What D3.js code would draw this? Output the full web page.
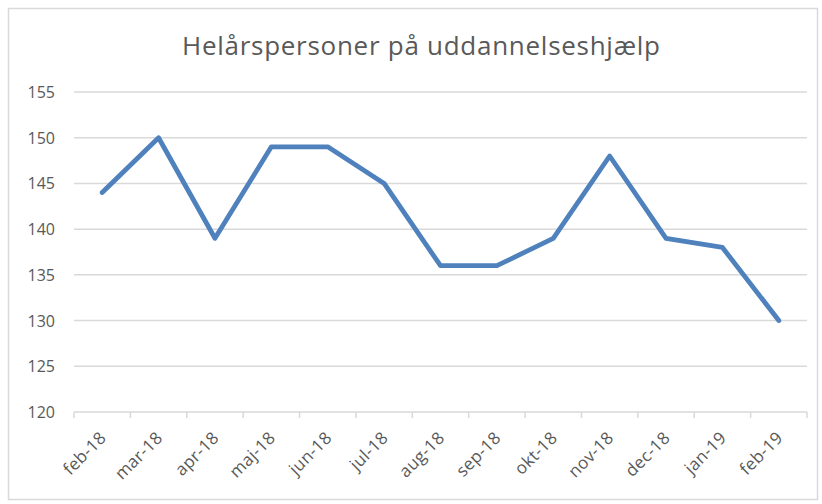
<meta charset="utf-8">
<title>Helårspersoner på uddannelseshjælp</title>
<style>
  body { margin: 0; background: #fff; }
  text { font-family: "Open Sans", "Noto Sans", sans-serif; fill: #595959; }
</style>
<body>
<script src="https://d3js.org/d3.v7.min.js"></script>
<script>
// data
var months = ['feb-18','mar-18','apr-18','maj-18','jun-18','jul-18','aug-18',
              'sep-18','okt-18','nov-18','dec-18','jan-19','feb-19'];
var persons = [144, 150, 139, 149, 149, 145, 136, 136, 139, 148, 139, 138, 130];
var yTicks = [120, 125, 130, 135, 140, 145, 150, 155];

var width = 822,
    height = 504;

var svg = d3.select('body').append('svg')
    .attr('width', width)
    .attr('height', height);

// chart frame
svg.append('rect')
    .attr('x', 8.5).attr('y', 8.5)
    .attr('width', 809).attr('height', 491)
    .style('fill', 'white')
    .style('stroke', '#d9d9d9')
    .style('stroke-width', 1.5);

var x = d3.scaleBand()
    .domain(months)
    .range([74, 807]);

var y = d3.scaleLinear()
    .domain([120, 155])
    .range([412, 92]);

// gridlines
svg.selectAll('.grid')
    .data(yTicks.slice(1))
    .enter().append('line')
    .attr('x1', 74).attr('x2', 807)
    .attr('y1', function(d) { return y(d); })
    .attr('y2', function(d) { return y(d); })
    .style('stroke', '#d9d9d9')
    .style('stroke-width', 1.5);

// x axis line + ticks
svg.append('line')
    .attr('x1', 74).attr('x2', 807)
    .attr('y1', y(120)).attr('y2', y(120))
    .style('stroke', '#d9d9d9')
    .style('stroke-width', 1.5);

var tickPos = months.map(function(m) { return x(m); }).concat([807]);
svg.selectAll('.xtick')
    .data(tickPos)
    .enter().append('line')
    .attr('x1', function(d) { return d; })
    .attr('x2', function(d) { return d; })
    .attr('y1', y(120)).attr('y2', y(120) + 6)
    .style('stroke', '#d9d9d9')
    .style('stroke-width', 1.5);

// y labels
svg.selectAll('.ylab')
    .data(yTicks)
    .enter().append('text')
    .attr('x', 55)
    .attr('y', function(d) { return y(d) + 6; })
    .attr('text-anchor', 'end')
    .style('font-size', '16px')
    .text(function(d) { return d; });

// x labels, rotated
svg.selectAll('.xlab')
    .data(months)
    .enter().append('text')
    .attr('text-anchor', 'end')
    .attr('transform', function(d) {
        return 'translate(' + (x(d) + x.bandwidth() / 2 + 5) + ',' + (y(120) + 27) + ') rotate(-45)';
    })
    .style('font-size', '17px')
    .style('letter-spacing', '0.3px')
    .text(function(d) { return d; });

// line
var line = d3.line()
    .x(function(d, i) { return x(months[i]) + x.bandwidth() / 2; })
    .y(function(d) { return y(d); });

svg.append('path')
    .datum(persons)
    .attr('d', line)
    .style('fill', 'none')
    .style('stroke', '#4f81bd')
    .style('stroke-width', 4.8)
    .style('stroke-linejoin', 'round')
    .style('stroke-linecap', 'round');

// title
svg.append('text')
    .attr('x', 421)
    .attr('y', 55)
    .attr('text-anchor', 'middle')
    .attr('textLength', 478)
    .attr('lengthAdjust', 'spacing')
    .style('font-size', '26px')
    .text('Helårspersoner på uddannelseshjælp');
</script>
